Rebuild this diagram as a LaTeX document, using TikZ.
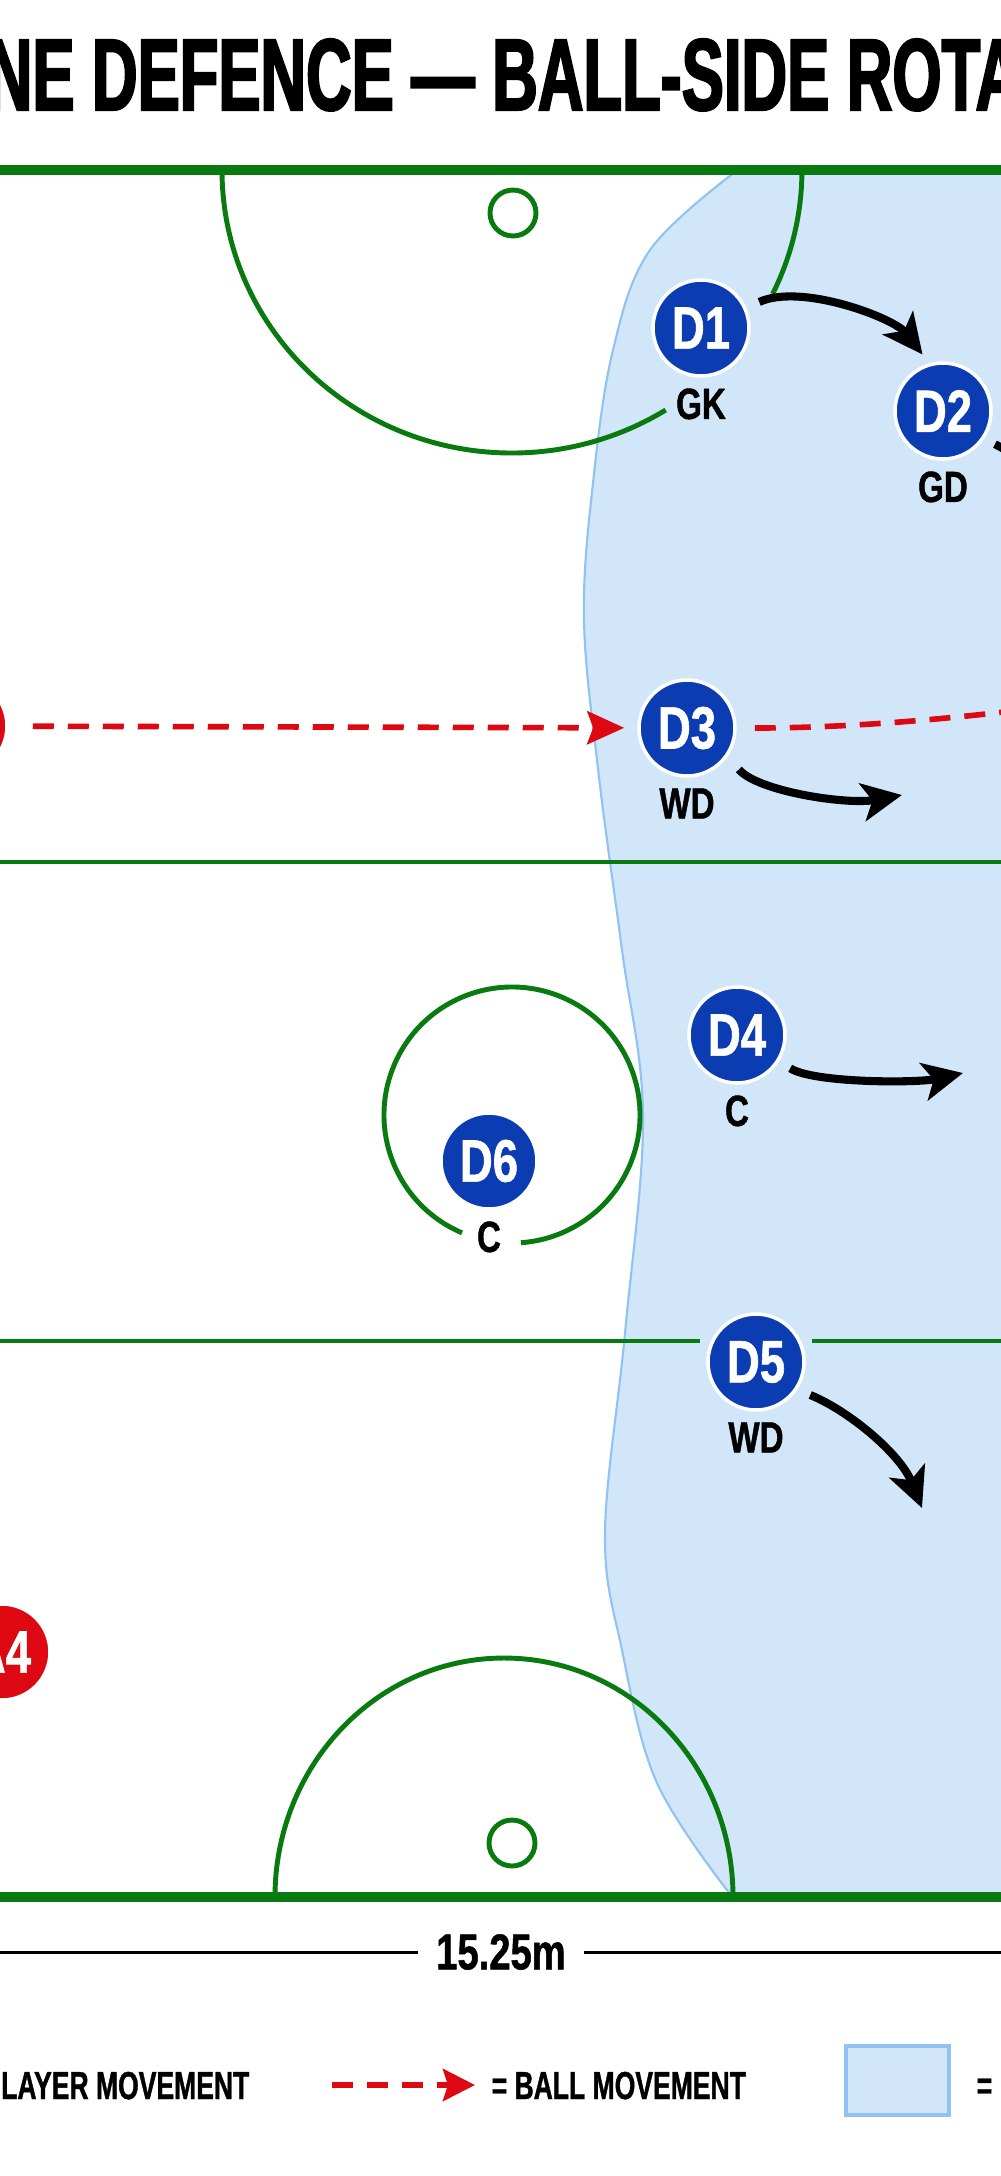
\documentclass[tikz,border=0pt]{standalone}
\usepackage{fontspec}
\usetikzlibrary{arrows.meta, positioning}
\newfontfamily\titlefont{Liberation Sans}[FakeStretch=0.62, FakeBold=2]
\newfontfamily\numfont{Liberation Sans}[FakeStretch=0.76, FakeBold=1]
\newfontfamily\legfont{Liberation Sans}[FakeStretch=0.68, FakeBold=1]
\definecolor{courtgreen}{RGB}{8,122,16}
\definecolor{defblue}{RGB}{12,60,178}
\definecolor{attred}{RGB}{222,8,18}
\definecolor{zonefill}{RGB}{210,230,250}
\definecolor{zoneedge}{RGB}{145,195,242}

\begin{document}
\begin{tikzpicture}[x=0.1mm, y=-0.1mm,
  defn/.style={circle, fill=defblue, draw=white, line width=1pt, minimum size=9.6mm,
    inner sep=0pt, text=white, font=\numfont\bfseries\fontsize{17}{17}\selectfont},
  attn/.style={defn, fill=attred},
  poslab/.style={inner sep=0pt, font=\numfont\bfseries\fontsize{12.4}{12}\selectfont},
  mov/.style={line width=2.3pt, -{Stealth[length=4mm, width=3.8mm, inset=1mm]}},
  ball/.style={attred, line width=1.6pt, dash pattern=on 2.1mm off 1.4mm},
  legtxt/.style={inner sep=0pt, font=\legfont\bfseries\fontsize{11.1}{11}\selectfont}]
  \useasboundingbox (0,0) rectangle (1000,2176);
  \fill[white] (0,0) rectangle (1000,2176);
  % title (cut at both sides)
  \node[anchor=base west, inner sep=0pt, font=\titlefont\bfseries\fontsize{29}{30}\selectfont]
    (title) at (-14,110) {NE DEFENCE — BALL-SIDE ROTA};
  % ball-side zone
  \filldraw[fill=zonefill, draw=zoneedge, line width=0.6pt] plot[smooth, tension=0.6] coordinates {
    (735,172) (650,250) (613,350) (593,483) (584,620) (599,777) (622,950)
    (643,1117) (625,1333) (605,1533) (622,1650) (657,1783) (730,1894)}
    -- (1060,1894) -- (1060,172) -- cycle;
  % court lines
  \draw[courtgreen, line width=2.6pt] (-10,170) -- (1010,170);
  \draw[courtgreen, line width=2.6pt] (-10,1897) -- (1010,1897);
  \draw[courtgreen, line width=1.1pt] (-10,862) -- (1010,862);
  \draw[courtgreen, line width=1.1pt] (-10,1341) -- (700,1341) (812,1341) -- (1010,1341);
  % goal circles and posts
  \draw[courtgreen, line width=1.4pt] (222,170) arc[start angle=180, end angle=58, x radius=290, y radius=283];
  \draw[courtgreen, line width=1.4pt] (772.6,294) arc[start angle=26, end angle=0, x radius=290, y radius=283];
  \draw[courtgreen, line width=1.4pt] (275,1897) arc[start angle=180, end angle=360, x radius=229, y radius=239];
  \draw[courtgreen, line width=1.4pt] (513,213) circle[radius=23];
  \draw[courtgreen, line width=1.4pt] (512,1843) circle[radius=23];
  % centre circle
  \coordinate (centre) at (512,1115);
  \draw[courtgreen, line width=1.4pt] (centre) ++(113:128) arc[start angle=113, end angle=446, radius=128];
  % players
  \node[defn] (d1) at (701,328) {D1};
  \node[defn] (d2) at (943,411) {D2};
  \node[defn] (d3) at (687,728) {D3};
  \node[defn] (d4) at (737,1035) {D4};
  \node[defn] (d5) at (756,1362) {D5};
  \node[defn] (d6) at (489,1161) {D6};
  \node[attn] (a3) at (-41,726) {};
  \node[attn] (a4) at (2,1652) {A4};
  \node[poslab, below=1mm of d1] (gk) {GK};
  \node[poslab, below=1mm of d2] (gd) {GD};
  \node[poslab, below=1mm of d3] (wd3) {WD};
  \node[poslab, below=1mm of d4] (c4) {C};
  \node[poslab, below=1mm of d5] (wd5) {WD};
  \node[poslab, below=1mm of d6] (c6) {C};
  % player movement
  \coordinate (d2to) at (1070,520);
  \coordinate (d3to) at (902,795);
  \coordinate (d4to) at (963,1073);
  \coordinate (d5to) at (922,1508);
  \draw[mov, shorten <=1.4mm, shorten >=1.1mm] (d1.24) .. controls +(55,-25) and +(-35,-45) .. (d2.106);
  \draw[mov, shorten <=1.2mm] (d2.-34) .. controls +(40,20) and +(-30,-40) .. (d2to);
  \draw[mov, shorten <=1.7mm] (d3.-35) .. controls +(30,35) and +(-55,10) .. (d3to);
  \draw[mov, shorten <=1.3mm] (d4.-32) .. controls +(35,22) and +(-45,10) .. (d4to);
  \draw[mov, shorten <=1.4mm] (d5.-34) .. controls +(50,20) and +(-22,-55) .. (d5to);
  % ball movement
  \draw[ball, -{Stealth[length=3.7mm, width=3.3mm, inset=0.6mm]}, shorten <=2.4mm, shorten >=1.3mm] (a3) -- (d3);
  \coordinate (ballout) at (1160,690);
  \draw[ball, shorten <=1.8mm] (d3.east) .. controls +(150,0) and +(-120,20) .. (ballout);
  % width
  \node[inner xsep=1.8mm, inner ysep=0pt, font=\numfont\bfseries\fontsize{14.3}{14}\selectfont] (dimlbl) at (501,1952) {15.25m};
  \coordinate (dimL) at (-10,1952);
  \coordinate (dimR) at (1010,1952);
  \draw[line width=0.85pt] (dimL) -- (dimlbl) (dimlbl) -- (dimR);
  % legend
  \node[legtxt, anchor=base east] (legplayer) at (250,2099) {LAYER MOVEMENT};
  \coordinate (legA) at (332,2085);
  \coordinate (legB) at (475,2085);
  \draw[ball, -{Stealth[length=3.2mm, width=3.2mm, inset=0.5mm]}] (legA) -- (legB);
  \node[legtxt, anchor=base west] (legball) at (491,2099) {= BALL MOVEMENT};
  \node[draw=zoneedge, fill=zonefill, line width=1pt, minimum width=10.3mm, minimum height=6.9mm, inner sep=0pt] (legzone) at (897.5,2080.5) {};
  \node[legtxt, anchor=base west] (legeq) at (976,2099) {=};
\end{tikzpicture}
\end{document}
